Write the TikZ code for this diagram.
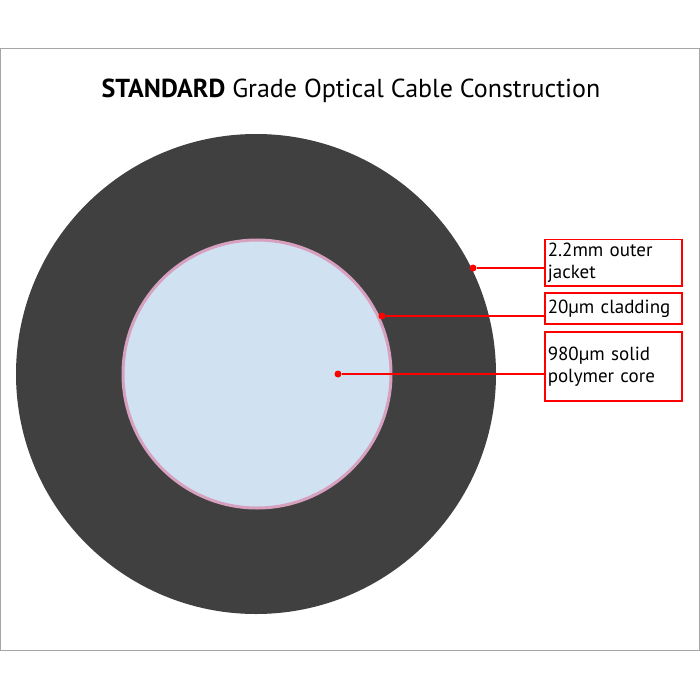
\documentclass[tikz,border=0pt]{standalone}
\usepackage{fontspec}
\setmainfont{PT Sans}
\begin{document}
\begin{tikzpicture}[x=1pt,y=-1pt,
  lbl/.style={draw=red,line width=1.5pt,anchor=north west,align=left,inner xsep=2pt,inner ysep=3pt,text width=131pt,minimum width=137pt,font=\fontsize{19}{21}\selectfont},
  lead/.style={red,line width=1.5pt},
  dot/.style={circle,fill=red,inner sep=0pt,minimum size=7pt}]
\useasboundingbox (0,0) rectangle (700,700);
\fill[white] (0,0) rectangle (700,700);
\draw[gray!70,line width=0.8pt] (0.5,48) rectangle (699.5,650);
\node (title) at (351,91) {\fontsize{26}{30}\selectfont\textbf{STANDARD} Grade Optical Cable Construction};
\fill[fill=black!75] (256,374) circle (240);
\draw[fill={rgb,255:red,208;green,226;blue,242},draw={rgb,255:red,214;green,160;blue,190},line width=3pt] (257,374) circle (134);
\node[dot] (d1) at (473,268) {};
\node[dot] (d2) at (382,316) {};
\node[dot] (d3) at (338,374) {};
\node[lbl,minimum height=46pt] (b1) at (544,239) {2.2mm outer\\[1pt]jacket};
\node[lbl,minimum height=31pt] (b2) at (544,292) {20µm cladding};
\node[lbl,minimum height=69pt,anchor=north west] (b3) at (544,331) {980µm solid\\[1pt]polymer core\\[18pt]};
\draw[lead] (d1) -- (d1 -| b1.west);
\draw[lead] (d2) -- (d2 -| b2.west);
\draw[lead] (d3) -- (d3 -| b3.west);
\end{tikzpicture}
\end{document}
